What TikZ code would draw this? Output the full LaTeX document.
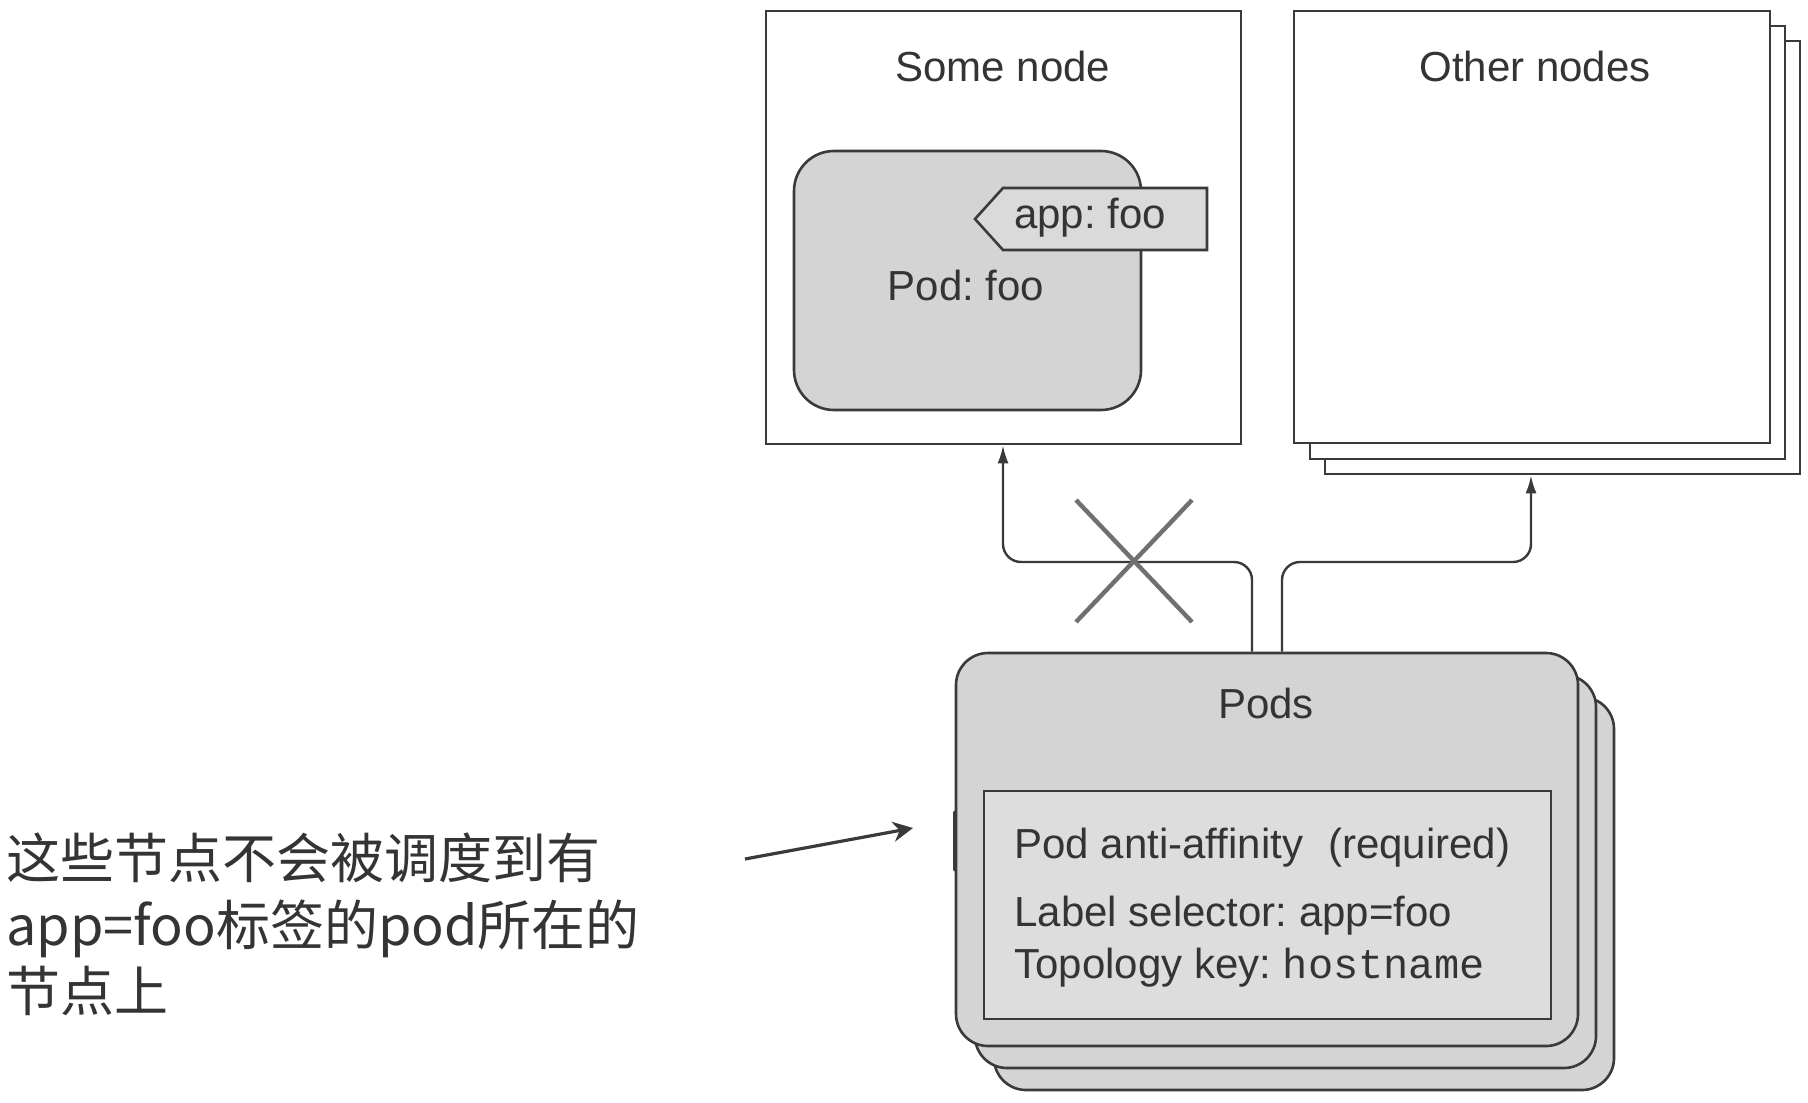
\documentclass[tikz,border=0pt]{standalone}
\usepackage{fontspec}
\setmainfont{Liberation Sans}
\setmonofont{Liberation Mono}
\newfontfamily\cjk{Noto Sans CJK SC}
\usetikzlibrary{fit,arrows.meta}
\definecolor{linecol}{RGB}{58,58,58}
\definecolor{textcol}{RGB}{52,52,52}
\definecolor{podgray}{RGB}{212,212,212}
\definecolor{innergray}{RGB}{221,221,221}
\definecolor{taggray}{RGB}{218,218,218}
\definecolor{xgray}{RGB}{112,112,112}
\tikzset{
  box/.style={draw=linecol, line width=1.3pt, inner sep=0pt, fill=white},
  podbox/.style={draw=linecol, line width=1.3pt, inner sep=0pt, fill=podgray, rounded corners=16pt},
  lbl/.style={text=textcol, font=\fontsize{21}{25}\selectfont, inner sep=0pt},
  cn/.style={text=textcol, font=\cjk\fontsize{27}{33}\selectfont, inner sep=0pt, anchor=base west},
  conn/.style={draw=linecol, line width=1.2pt, rounded corners=9pt, -{Latex[length=9pt,width=5.5pt]}},
  xline/.style={draw=xgray, line width=2.2pt},
}
\frenchspacing
\begin{document}
\begin{tikzpicture}[x=0.5pt,y=-0.5pt]
\useasboundingbox (0,0) rectangle (1808,1102);
\fill[white] (0,0) rectangle (1808,1102);

% Some node
\node[box, fit={(766,11) (1241,444)}] (some) {};
\node[lbl] (somet) at (1003,66) {Some node};
\node[podbox, rounded corners=20pt, fit={(794,151) (1141,410)}] (podfoo) {};
\node[lbl] (podfoot) at (966,285) {Pod: foo};
\draw[draw=linecol, line width=1.3pt, fill=taggray] (1003,188) -- (1207,188) -- (1207,250) -- (1003,250) -- (975,219) -- cycle;
\node[lbl] (apptag) at (1090,218) {app: foo};

% Other nodes stack
\node[box, fit={(1325,41) (1800,474)}] (other3) {};
\node[box, fit={(1310,26) (1785,459)}] (other2) {};
\node[box, fit={(1294,11) (1770,443)}] (other) {};
\node[lbl] (othert) at (1535,66) {Other nodes};

% Pods stack
\node[podbox, fit={(994,697) (1614,1090)}] (pods3) {};
\node[podbox, fit={(975,675) (1596,1068)}] (pods2) {};
\node[podbox, fit={(956,653) (1578,1046)}] (pods) {};
\node[lbl] (podst) at (1266,703) {Pods};
\node[draw=linecol, line width=1.3pt, fill=innergray, inner sep=0pt, fit={(984,791) (1551,1019)}] (rule) {};
\node[lbl, anchor=base west] (r1) at (1014,858) {Pod anti-affinity\hspace{0.6em}(required)};
\node[lbl, anchor=base west] (r2) at (1014,926) {Label selector: app=foo};
\node[lbl, anchor=base west] (r3) at (1014,978) {Topology key: {\ttfamily hostname}};
\draw[draw=linecol, line width=2.4pt, line cap=round] (955,813) -- (955,869);

% connectors
\draw[conn] (1252,0 |- pods.north) |- (1003,562) -- (1003,0 |- some.south);
\draw[conn] (1282,0 |- pods.north) |- (1531,562) -- (1531,0 |- other3.south);
\draw[xline] (1076,500) -- (1192,622);
\draw[xline] (1076,622) -- (1192,500);

% annotation
\coordinate (annstart) at (745,859);
\coordinate (annend) at (913,828);
\draw[draw=linecol, line width=1.6pt, -{Stealth[length=10pt,width=10pt]}] (annstart) -- (annend);
\node[cn] (cn1) at (6,878) {这些节点不会被调度到有};
\node[cn] (cn2) at (6,945) {app=foo标签的pod所在的};
\node[cn] (cn3) at (6,1011) {节点上};
\end{tikzpicture}
\end{document}
